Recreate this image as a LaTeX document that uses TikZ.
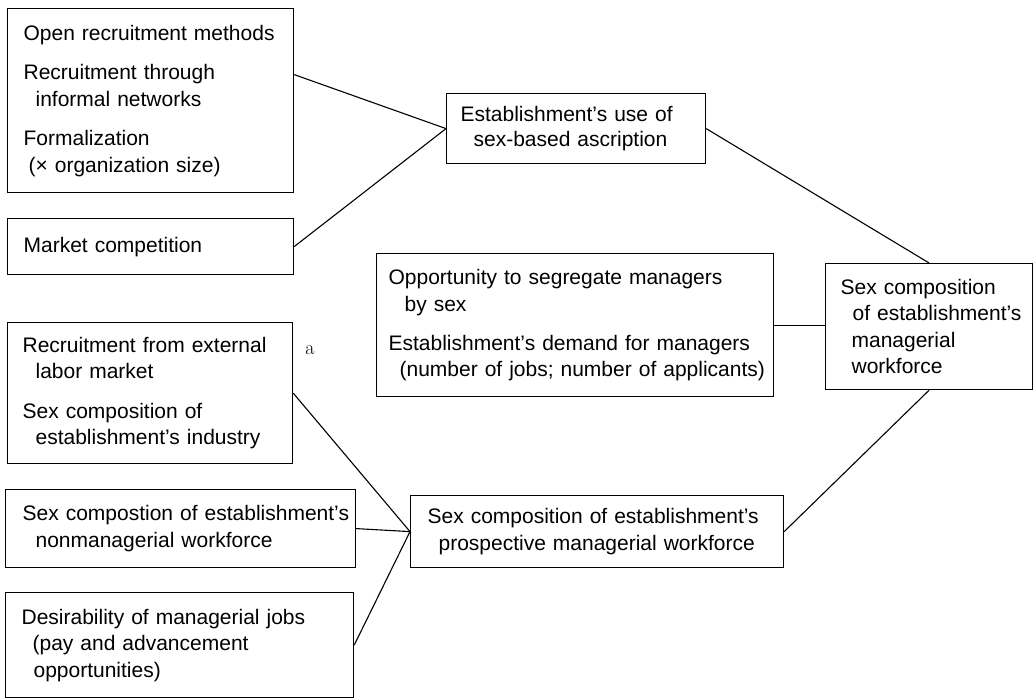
\documentclass[tikz,border=0pt]{standalone}
\usepackage{fontspec}
\newfontfamily\boxfont{Liberation Sans}
\begin{document}
\begin{tikzpicture}[x=1pt,y=1pt,
  box/.style={draw, line width=1.2pt, inner xsep=0pt, inner ysep=0pt,
    align=left, anchor=north west,
    font=\boxfont\fontsize{21}{26.5}\selectfont},
  link/.style={line width=1.1pt},
  note/.style={inner sep=0pt, font=\fontsize{20}{24}\selectfont}]
\useasboundingbox (0,0) rectangle (1034,-699);

% left column: determinants
\node[box, text width=286pt, minimum height=184pt] (A) at (7,-8)
  {\hspace*{16pt}Open recruitment methods\\[13pt]
   \hspace*{16pt}Recruitment through\\
   \hspace*{28pt}informal networks\\[13pt]
   \hspace*{16pt}Formalization\\
   \hspace*{21pt}(× organization size)};
\node[box, text width=286pt, minimum height=56pt] (B) at (7,-218)
  {\hspace*{16pt}Market competition};
\node[box, text width=285pt, minimum height=141pt] (C) at (7,-322)
  {\hspace*{15pt}Recruitment from external\\
   \hspace*{28pt}labor market\\[13pt]
   \hspace*{15pt}Sex composition of\\
   \hspace*{28pt}establishment’s industry};
\node[box, text width=350pt, minimum height=78pt] (F) at (5,-489)
  {\hspace*{17pt}Sex compostion of establishment’s\\
   \hspace*{30pt}nonmanagerial workforce};
\node[box, text width=348pt, minimum height=105pt] (G) at (5,-592)
  {\hspace*{16pt}Desirability of managerial jobs\\
   \hspace*{27pt}(pay and advancement\\
   \hspace*{28pt}opportunities)};

% middle column: intermediate factors
\node[box, text width=259pt, minimum height=70pt] (D) at (446,-93)
  {\hspace*{14pt}Establishment’s use of\\[-1.5pt]
   \hspace*{27pt}sex-based ascription};
\node[box, text width=397pt, minimum height=143pt] (M) at (376,-253)
  {\hspace*{12pt}Opportunity to segregate managers\\
   \hspace*{28pt}by sex\\[12.5pt]
   \hspace*{12pt}Establishment’s demand for managers\\
   \hspace*{23pt}(number of jobs; number of applicants)};
\node[box, text width=373pt, minimum height=72pt] (H) at (410,-495)
  {\hspace*{17pt}Sex composition of establishment’s\\
   \hspace*{28pt}prospective managerial workforce};

% outcome
\node[box, text width=207pt, minimum height=126pt] (E) at (825,-263)
  {\hspace*{15pt}Sex composition\\
   \hspace*{27pt}of establishment’s\\
   \hspace*{26pt}managerial\\
   \hspace*{26pt}workforce};

\node[note] (a) at (310,-350) {a};

% connectors
\draw[link] ([yshift=26pt]A.east) -- (D.west);
\draw[link] (B.east) -- (D.west);
\draw[link] (D.east) -- (E.north);
\draw[link] (M.east) -- (M.east -| E.west);
\draw[link] (E.south) -- (H.east);
\draw[link] (C.east) -- (H.west);
\draw[link] (F.east) -- (H.west);
\draw[link] (G.east) -- (H.west);
\end{tikzpicture}
\end{document}
